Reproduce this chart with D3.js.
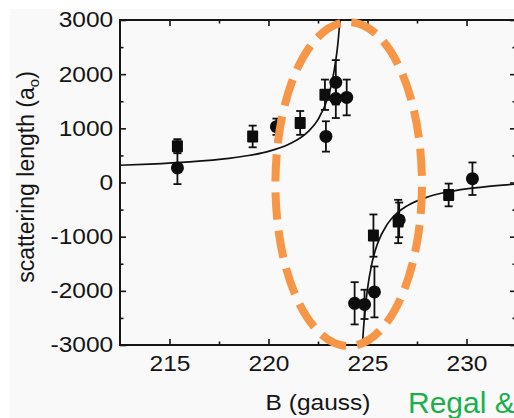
<!DOCTYPE html>
<html lang="en">
<head>
    <meta charset="UTF-8">
    <title>Scattering length vs B</title>
    <style>
        html, body { margin: 0; padding: 0; background: #ffffff; }
        svg { display: block; }
        text { font-family: "Liberation Sans", Arial, sans-serif; fill: #151515; }
    </style>
</head>
<body>
    <div id="chart"></div>
    <script src="https://d3js.org/d3.v7.min.js"></script>
    <script>
        // squares (one data set)
        const squareB   = [215.4, 219.2, 221.6, 222.85, 225.3, 226.55, 229.1];
        const squareA   = [670, 850, 1100, 1620, -980, -720, -230];
        const squareErr = [130, 200, 220, 280, 390, 400, 210];

        // circles (other data set)
        const circleB   = [215.4, 220.4, 222.9, 223.4, 223.4, 223.95, 224.35, 224.85, 225.35, 226.6, 230.3];
        const circleA   = [270, 1030, 850, 1850, 1550, 1570, -2230, -2250, -2020, -690, 70];
        const circleErr = [300, 150, 280, 410, 360, 330, 390, 270, 470, 320, 300];

        // fit line, two branches of the resonance
        const fitLeftB  = [212.5, 214, 216, 218, 219, 220, 221, 222, 222.5, 223, 223.2, 223.4, 223.5, 223.61];
        const fitLeftA  = [318, 339, 380, 446, 498, 575, 700, 938, 1161, 1569, 1845, 2258, 2551, 3000];
        const fitRightB = [224.74, 224.8, 224.9, 225, 225.2, 225.5, 226, 226.5, 227, 228, 229, 230, 231, 232.5];
        const fitRightA = [-3000, -2687, -2272, -1962, -1531, -1134, -769, -563, -431, -271, -178, -117, -75, -30];

        const xMajor = [215, 220, 225, 230];
        const xMinor = [217.5, 222.5, 227.5];
        const yMajor = [-3000, -2000, -1000, 0, 1000, 2000, 3000];
        const yMinor = [-2500, -1500, -500, 500, 1500, 2500];

        // highlighted region (dashed ellipse), in data units
        const ringB = 224.05, ringA = -30, ringHalfB = 3.7, ringHalfA = 2990;

        const width = 514, height = 418;
        const stretch = 1.14;

        const svg = d3.select("#chart").append("svg")
            .attr("width", width)
            .attr("height", height);

        svg.append("rect")
            .attr("x", 10).attr("y", 9)
            .attr("width", width - 10).attr("height", height - 9)
            .attr("fill", "#f9f9f9");

        const x = d3.scaleLinear().domain([212.5, 232.5]).range([120, 516]);
        const y = d3.scaleLinear().domain([-3000, 3000]).range([345, 20]);

        // axes
        const drawAxis = function(axis, tr, vals, size, labels) {
            const g = svg.append("g")
                .attr("transform", tr)
                .call(axis.tickValues(vals).tickSizeInner(size).tickSizeOuter(0)
                    .tickFormat(labels ? (d => String(d)) : ""));
            g.select(".domain").remove();
            g.selectAll("line").attr("stroke", "#151515").attr("stroke-width", 1.6);
            g.selectAll("text").attr("font-size", "21.5px").attr("fill", "#151515")
                .attr("font-family", "Liberation Sans, Arial, sans-serif")
                .attr("transform", "scale(" + stretch + ",1)");
            return g;
        };

        drawAxis(d3.axisBottom(x).tickPadding(11), "translate(0,345)", xMajor, -6, true);
        drawAxis(d3.axisBottom(x), "translate(0,345)", xMinor, -3.5, false);
        drawAxis(d3.axisTop(x), "translate(0,20)", xMajor, -6, false);
        drawAxis(d3.axisTop(x), "translate(0,20)", xMinor, -3.5, false);
        drawAxis(d3.axisLeft(y).tickPadding(6), "translate(120,0)", yMajor, -6, true);
        drawAxis(d3.axisLeft(y), "translate(120,0)", yMinor, -3.5, false);
        drawAxis(d3.axisRight(y), "translate(516,0)", yMajor, -6, false);
        drawAxis(d3.axisRight(y), "translate(516,0)", yMinor, -3.5, false);

        // frame
        svg.append("rect")
            .attr("x", x(212.5)).attr("y", y(3000))
            .attr("width", x(232.5) - x(212.5)).attr("height", y(-3000) - y(3000))
            .attr("fill", "none").attr("stroke", "#151515").attr("stroke-width", 2);

        // fit curve
        const line = d3.line()
            .x(d => x(d[0])).y(d => y(d[1]))
            .curve(d3.curveMonotoneX);
        [[fitLeftB, fitLeftA], [fitRightB, fitRightA]].forEach(function(br) {
            svg.append("path")
                .datum(br[0].map((b, i) => [b, br[1][i]]))
                .attr("d", line)
                .attr("fill", "none")
                .attr("stroke", "#111")
                .attr("stroke-width", 1.7);
        });

        // error bars
        const drawErrors = function(bs, as, errs) {
            const g = svg.append("g").attr("stroke", "#111").attr("stroke-width", 1.8);
            bs.forEach(function(b, i) {
                const cx = x(b), top = y(as[i] + errs[i]), bot = y(as[i] - errs[i]);
                g.append("line").attr("x1", cx).attr("x2", cx).attr("y1", top).attr("y2", bot);
                g.append("line").attr("x1", cx - 4).attr("x2", cx + 4).attr("y1", top).attr("y2", top);
                g.append("line").attr("x1", cx - 4).attr("x2", cx + 4).attr("y1", bot).attr("y2", bot);
            });
        };
        drawErrors(squareB, squareA, squareErr);
        drawErrors(circleB, circleA, circleErr);

        svg.append("g").selectAll("rect")
            .data(squareB.map((b, i) => [b, squareA[i]]))
            .join("rect")
            .attr("x", d => x(d[0]) - 5.5)
            .attr("y", d => y(d[1]) - 6)
            .attr("width", 11).attr("height", 12)
            .attr("rx", 1)
            .attr("fill", "#0d0d0d");

        svg.append("g").selectAll("circle")
            .data(circleB.map((b, i) => [b, circleA[i]]))
            .join("circle")
            .attr("cx", d => x(d[0]))
            .attr("cy", d => y(d[1]))
            .attr("r", 6.5)
            .attr("fill", "#0d0d0d");

        // dashed ellipse
        const ring = svg.append("ellipse")
            .attr("cx", x(ringB)).attr("cy", y(ringA))
            .attr("rx", x(ringB + ringHalfB) - x(ringB))
            .attr("ry", y(ringA - ringHalfA) - y(ringA))
            .attr("fill", "none")
            .attr("stroke", "#f79646")
            .attr("stroke-width", 8);
        const total = ring.node().getTotalLength();
        const period = total / 20;
        ring.attr("stroke-dasharray", (period * 0.71) + " " + (period * 0.29))
            .attr("stroke-dashoffset", period * 0.93);

        // labels
        svg.append("text")
            .attr("transform", "translate(318,410) scale(" + stretch + ",1)")
            .attr("text-anchor", "middle")
            .attr("font-size", "21.5px")
            .text("B (gauss)");

        const yl = svg.append("text")
            .attr("transform", "translate(34,177) rotate(-90)")
            .attr("text-anchor", "middle")
            .attr("font-size", "23px")
            .text("scattering length (a");
        yl.append("tspan").attr("font-size", "15px").attr("dy", 5).text("o");
        yl.append("tspan").attr("dy", -5).text(")");

        svg.append("text")
            .attr("x", 408).attr("y", 413)
            .attr("font-size", "30px")
            .attr("font-family", "Comic Sans MS, Comic Neue, Lato, sans-serif")
            .style("fill", "#1bb04a")
            .text("Regal &");
    </script>
</body>
</html>
